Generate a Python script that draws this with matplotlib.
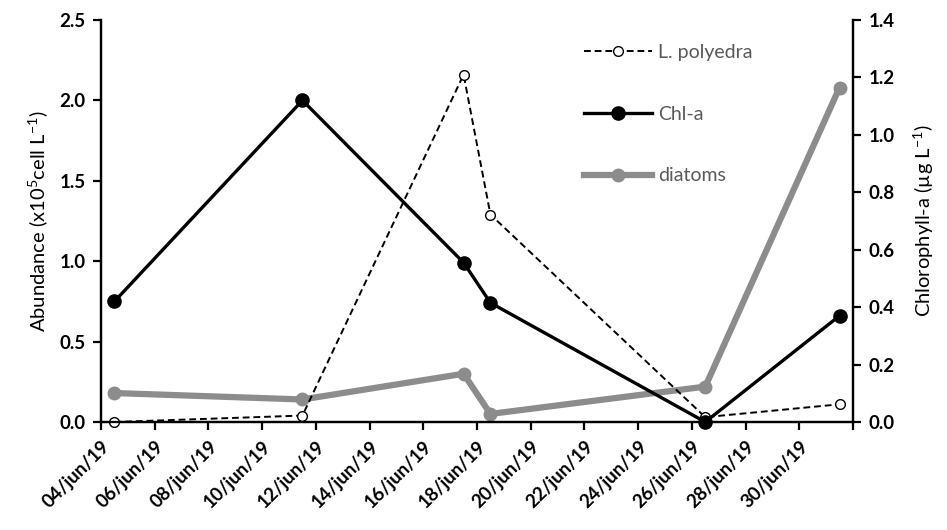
import datetime as dt
import matplotlib
matplotlib.use("Agg")
import matplotlib.pyplot as plt

plt.rcParams['font.family'] = ['Lato', 'DejaVu Sans']
plt.rcParams['mathtext.fontset'] = 'custom'
plt.rcParams['mathtext.rm'] = 'Lato'

# sampling dates and values
dates = [dt.datetime(2019, 6, 4), dt.datetime(2019, 6, 11), dt.datetime(2019, 6, 17),
         dt.datetime(2019, 6, 18), dt.datetime(2019, 6, 26), dt.datetime(2019, 7, 1)]
polyedra = [0.00, 0.04, 2.16, 1.29, 0.03, 0.11]   # x10^5 cell/L
diatoms = [0.18, 0.14, 0.30, 0.05, 0.22, 2.08]    # x10^5 cell/L
chla = [0.42, 1.12, 0.555, 0.415, 0.0, 0.37]     # ug/L

tick_dates = [dt.datetime(2019, 6, 4) + dt.timedelta(days=2 * i) for i in range(15)]
tick_labels = [d.strftime('%d/') + d.strftime('%b').lower()[:3] + d.strftime('/%y') for d in tick_dates[:-1]] + ['']

# points sit in the middle of their day, like Excel's date axis
xs = [d + dt.timedelta(hours=12) for d in dates]

fig = plt.figure(figsize=(9.47, 5.30), dpi=100)
ax = fig.add_axes([0.1067, 0.2038, 0.794, 0.7585])
ax2 = ax.twinx()

gray = '#8c8c8c'
l_dia, = ax.plot(xs, diatoms, color=gray, lw=4.5, marker='o', ms=9, clip_on=False, zorder=2)
l_pol, = ax.plot(xs, polyedra, color='black', lw=1.4, ls=(0, (3.5, 2)), marker='o', ms=7,
                 mfc='white', mec='black', mew=1, clip_on=False, zorder=3)
l_chl, = ax2.plot(xs, chla, color='black', lw=2.4, marker='o', ms=9.5, clip_on=False, zorder=3)

ax.set_xlim(tick_dates[0], tick_dates[-1])
ax.set_ylim(0, 2.5)
ax2.set_ylim(0, 1.4)
ax.set_yticks([0, 0.5, 1.0, 1.5, 2.0, 2.5])
ax.set_yticklabels(['0.0', '0.5', '1.0', '1.5', '2.0', '2.5'])
ax2.set_yticks([0, 0.2, 0.4, 0.6, 0.8, 1.0, 1.2, 1.4])
ax2.set_yticklabels(['0.0', '0.2', '0.4', '0.6', '0.8', '1.0', '1.2', '1.4'])
ax.set_xticks(tick_dates)
ax.set_xticklabels(tick_labels, rotation=45, ha='right', rotation_mode='anchor')

for a in (ax, ax2):
    a.spines['top'].set_visible(False)
    for s in ('left', 'right', 'bottom'):
        a.spines[s].set_linewidth(1.6)
    a.tick_params(width=1.6, length=6, direction='out', labelsize=13.5, pad=5)
    for lab in a.get_xticklabels() + a.get_yticklabels():
        lab.set_fontweight('bold')

ax.set_ylabel(r'Abundance (x10$^{\mathregular{5}}$cell L$^{\mathregular{-1}}$)', fontsize=14.5, labelpad=6)
ax2.set_ylabel(r'Chlorophyll-a (µg L$^{\mathregular{-1}}$)', fontsize=14.5, labelpad=12)

handles = [l_pol, l_chl, l_dia]
leg = fig.legend(handles, ['L. polyedra', 'Chl-a', 'diatoms'], loc='upper left',
                 bbox_to_anchor=(0.598, 0.95), frameon=False, fontsize=14,
                 handlelength=3.5, labelspacing=2.3, handletextpad=0.3)
for t in leg.get_texts():
    t.set_color('#595959')

fig.savefig('out.png', dpi=100)
